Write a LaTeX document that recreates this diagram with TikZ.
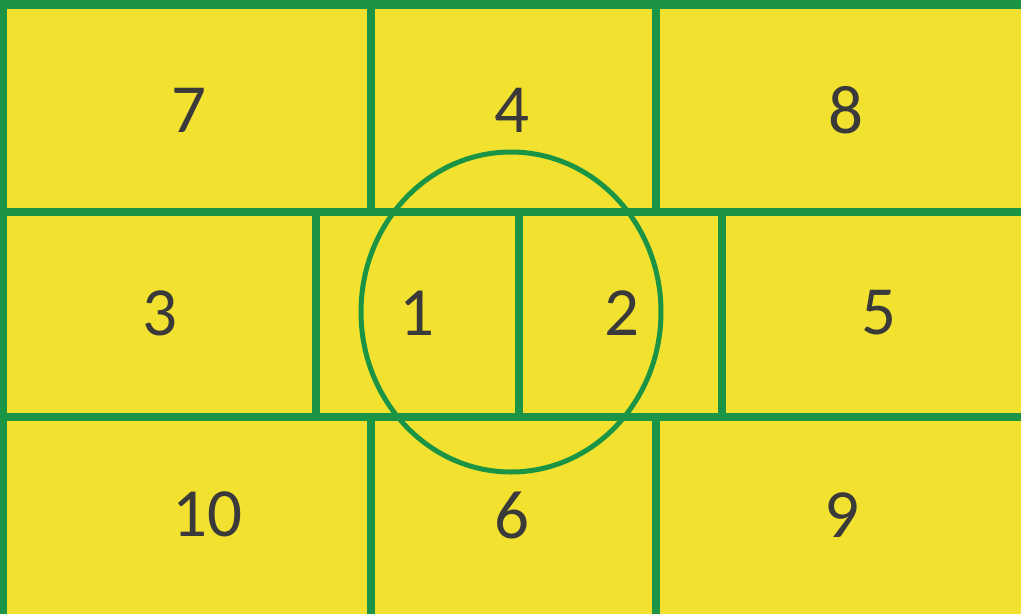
\documentclass[tikz,border=0pt]{standalone}
\usepackage{fontspec}
\setmainfont{Carlito}
\definecolor{grn}{HTML}{1B9545}
\definecolor{ylw}{HTML}{F2E22F}
\definecolor{txt}{HTML}{3A3A3A}
\begin{document}
\begin{tikzpicture}[x=1pt,y=-1pt,
  grid/.style={draw=grn,line width=8pt},
  ring/.style={draw=grn,line width=5pt},
  num/.style={text=txt,font=\fontsize{69}{69}\selectfont,inner sep=0pt,anchor=center}]
\fill[ylw] (0,0) rectangle (1021,614);
\useasboundingbox (0,0) rectangle (1021,614);
% outer border (top and left)
\draw[draw=grn,line width=9pt] (0,4.5) -- (1021,4.5);
\draw[draw=grn,line width=7pt] (3.5,0) -- (3.5,614);
% horizontal lines
\draw[grid] (0,211.5) -- (1021,211.5);
\draw[grid] (0,417) -- (1021,417);
% top row verticals
\draw[grid] (370.5,0) -- (370.5,211.5);
\draw[grid] (655.5,0) -- (655.5,211.5);
% middle row verticals
\draw[grid] (316,211.5) -- (316,417);
\draw[grid] (519,211.5) -- (519,417);
\draw[grid] (722,211.5) -- (722,417);
% bottom row verticals
\draw[grid] (370.5,417) -- (370.5,614);
\draw[grid] (655.5,417) -- (655.5,614);
% circle
\draw[ring] (511,312) ellipse [x radius=150, y radius=160];
% numbers
\node[num] (n7) at (189,110) {7};
\node[num] (n4) at (512,110) {4};
\node[num] (n8) at (846,110) {8};
\node[num] (n3) at (160,313) {3};
\node[num] (n1) at (417,313) {1};
\node[num] (n2) at (622,313) {2};
\node[num] (n5) at (879,313) {5};
\node[num] (n10) at (207,514) {10};
\node[num] (n6) at (512,515) {6};
\node[num] (n9) at (842,515) {9};
\end{tikzpicture}
\end{document}
